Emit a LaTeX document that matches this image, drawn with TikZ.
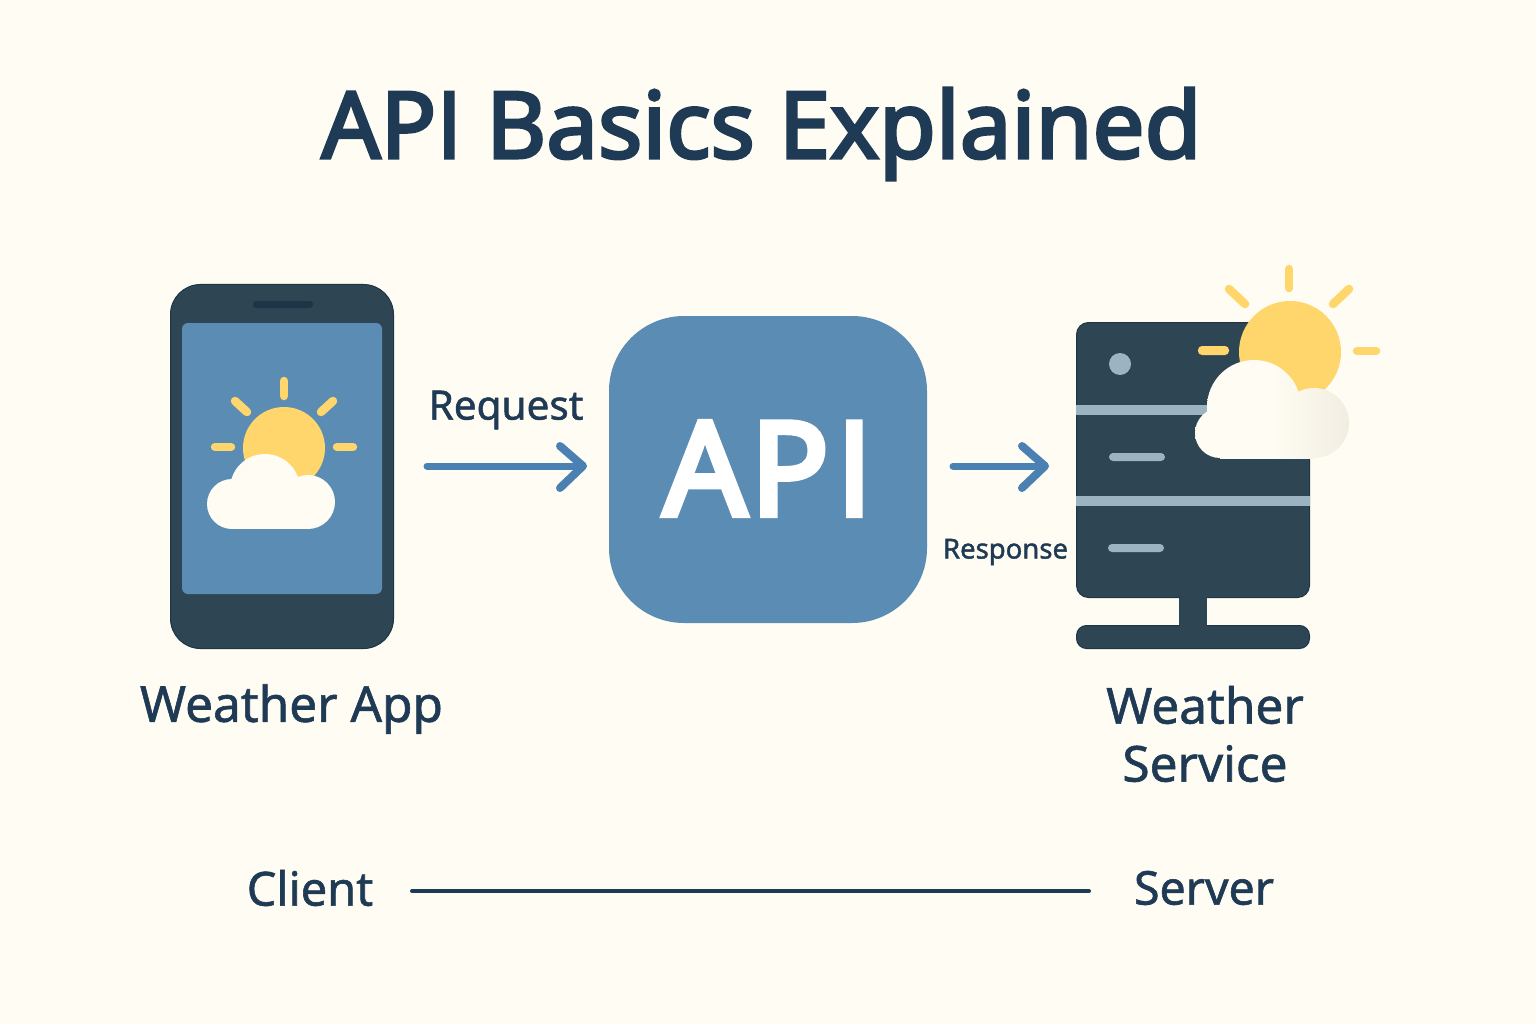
\documentclass[tikz,border=0pt]{standalone}
\usepackage{fontspec}
\setmainfont{Noto Sans}
\newfontfamily\plainI{Open Sans}
\usetikzlibrary{arrows.meta}
\definecolor{bg}{HTML}{FFFCF3}
\definecolor{ink}{HTML}{1F3A54}
\definecolor{dark}{HTML}{2E4653}
\definecolor{edge}{HTML}{1E3547}
\definecolor{blue}{HTML}{5B8DB4}
\definecolor{arrowc}{HTML}{4A81B2}
\definecolor{sun}{HTML}{FFD66B}
\definecolor{pale}{HTML}{9CB3C2}
\definecolor{cloudw}{HTML}{FFFCF3}
\definecolor{cloude}{HTML}{F1EDE1}
\newcommand{\cloudgrad}{\shade[left color=cloudw,right color=cloude,middle color=cloudw] (1195,360) rectangle (1349,458);}
\tikzset{
  lab/.style={text=ink,inner sep=0pt,align=center},
  ray/.style={draw=sun,line width=8.5pt,line cap=round},
  flow/.style={draw=arrowc,line width=7pt,line cap=round},
  chev/.style={draw=arrowc,line width=8pt,line cap=round,line join=round},
  body/.style={fill=dark,draw=edge,line width=1pt},
  palebar/.style={fill=pale},
}
\begin{document}
\begin{tikzpicture}[x=1pt,y=-1pt]
\useasboundingbox (0,0) rectangle (1536,1024);
\fill[bg] (0,0) rectangle (1536,1024);
% title
\node[lab] (title) at (761.5,134) {\fontsize{92.4}{100}\selectfont\addfontfeature{FakeBold=3.2}AP{\plainI\addfontfeature{FakeBold=3.2}I} Basics Explained};
% phone
\draw[body,rounded corners=30pt] (170.5,284.5) rectangle (393.5,648.5);
\fill[edge,rounded corners=3pt] (253,301) rectangle (313,308);
\fill[blue,rounded corners=6pt] (182,323) rectangle (382,594);
\fill[sun] (284,448) circle (41);
\draw[ray] (284,381)--(284,396);
\draw[ray] (235,401)--(247,412);
\draw[ray] (333,401)--(321,412);
\draw[ray] (215,447)--(231,447);
\draw[ray] (337,447)--(353,447);
\fill[cloudw] (232,504) circle (25) (265,489) circle (35) (308,502) circle (27);
\fill[cloudw] (232,490) rectangle (308,529);
% labels
\node[lab] (app) at (291.5,709) {\fontsize{49.5}{52}\selectfont\addfontfeature{FakeBold=1.2} Weather App};
% API
\node[fill=blue,rounded corners=75pt,minimum width=318pt,minimum height=307pt,inner sep=0pt] (api) at (768,469.5) {};
\node[text=white,inner sep=0pt] (apit) at (768,468.5) {\fontsize{130}{140}\selectfont\addfontfeature{FakeBold=4.5}A\kern4pt P\kern7pt{\plainI\addfontfeature{FakeBold=4.5}I}};
% request
\coordinate (reqs) at (427,466);
\coordinate (reqe) at (583,466);
\draw[flow] (reqs)--(reqe);
\draw[chev] (560,446)--(reqe)--(560,488);
\node[lab] (req) at (506,410) {\fontsize{40.5}{44}\selectfont\addfontfeature{FakeBold=1.2} Request};
% response
\coordinate (ress) at (953,466);
\coordinate (rese) at (1045,466);
\draw[flow] (ress)--(rese);
\draw[chev] (1022,446)--(rese)--(1022,488);
\node[lab] (res) at (1005.5,552) {\fontsize{27.5}{30}\selectfont\addfontfeature{FakeBold=1.5} Response};
% server
\fill[dark] (1179,590) rectangle (1207,635);
\draw[body,rounded corners=12pt] (1076.5,322.5) rectangle (1309.5,597.5);
\draw[body,rounded corners=10pt] (1076.5,625.5) rectangle (1309.5,648.5);
\fill[dark] (1179.5,590) rectangle (1206.5,635);
\fill[palebar] (1076,405) rectangle (1310,415);
\fill[palebar] (1076,496) rectangle (1310,506);
\fill[pale] (1120,364) circle (11);
\fill[sun,rounded corners=4pt] (1198,346) rectangle (1229,355);
\fill[pale,rounded corners=4pt] (1109,453) rectangle (1165,461);
\fill[pale,rounded corners=4pt] (1108,544) rectangle (1164,552);
\fill[sun] (1290,352) circle (51);
\draw[ray] (1289,269)--(1289,288);
\draw[ray] (1229,289)--(1245,304);
\draw[ray] (1349,289)--(1333,304);
\draw[ray] (1357,351)--(1376,351);
% cloud on server
\begin{scope}\clip (1220,433) circle (25); \cloudgrad\end{scope}
\begin{scope}\clip (1254,407) circle (47); \cloudgrad\end{scope}
\begin{scope}\clip (1314,423) circle (35); \cloudgrad\end{scope}
\begin{scope}\clip (1220,458) rectangle (1314,400); \cloudgrad\end{scope}
\node[lab,font=\fontsize{49.5}{58}\selectfont\addfontfeature{FakeBold=1.2}] (svc) at (1205,734) {Weather\\Service};
% client server
\node[lab] (client) at (310,888) {\fontsize{47}{50}\selectfont\addfontfeature{FakeBold=1.2} Client};
\node[lab] (server) at (1204,888) {\fontsize{46.5}{50}\selectfont\addfontfeature{FakeBold=1.2} Server};
\coordinate (ls) at (412,891);
\coordinate (le) at (1089,891);
\draw[ink,line width=4pt,line cap=round] (ls)--(le);
\end{tikzpicture}
\end{document}
